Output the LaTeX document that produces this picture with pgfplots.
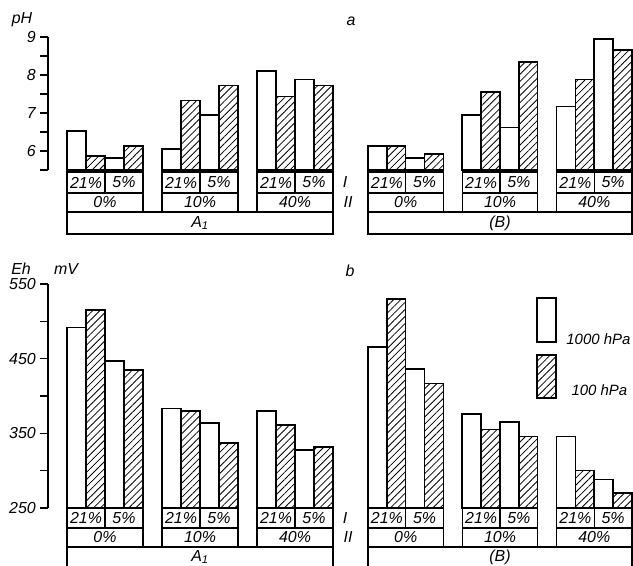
\documentclass[border=0pt]{standalone}
\usepackage{pgfplots}
\pgfplotsset{compat=1.18}
\usetikzlibrary{patterns.meta}
\usepackage{fontspec}
\setmainfont{Liberation Sans}

\newcommand{\lf}{\itshape\fontsize{16}{16}\selectfont}
\tikzset{hatch/.style={pattern={Lines[angle=45,distance=5bp,line width=0.8bp]}}}
\pgfplotsset{
  barax/.style={scale only axis, enlargelimits=false,
    axis x line=none, clip=true,
    ybar, bar width=1, bar shift=0pt},
  yax/.style={axis y line=left, xmin=-1, xmax=14.2, width=288.8bp,
    y axis line style={-, line width=1.4bp, black},
    tick align=outside, ytick pos=left, major tick length=8bp,
    tick style={line width=1.4bp, black},
    yticklabel style={font=\lf, inner sep=1bp, xshift=-3bp}},
  nax/.style={hide axis, xmin=-0.2, xmax=14.2, width=271.5bp},
  openbar/.style={ybar, bar width=1, bar shift=0pt, draw=black, line width=1.6bp, fill=white},
  hatchbar/.style={ybar, bar width=1, bar shift=0pt, draw=black, line width=1.6bp, hatch},
}

\begin{document}
\begin{tikzpicture}
\useasboundingbox (0,0) rectangle (633bp,-566bp);

% ---------- top left: pH, A1
\begin{axis}[barax, yax, at={(48bp,-170bp)}, anchor=south west, height=133bp,
  ymin=5.5, ymax=9, ytick={5.5,6,6.5,7,7.5,8,8.5,9}, yticklabels={,6,,7,,8,,9}]
\addplot[openbar] coordinates {(0.5,6.52) (2.5,5.82) (5.5,6.05) (7.5,6.94) (10.5,8.11) (12.5,7.88)};
\addplot[hatchbar] coordinates {(1.5,5.87) (3.5,6.13) (6.5,7.33) (8.5,7.72) (11.5,7.43) (13.5,7.72)};
\end{axis}

% ---------- top right: pH, (B)
\begin{axis}[barax, nax, at={(364.2bp,-170bp)}, anchor=south west, height=133bp,
  ymin=5.5, ymax=9]
\addplot[openbar] coordinates {(0.5,6.13) (2.5,5.81) (5.5,6.94) (7.5,6.62) (10.5,7.17) (12.5,8.95)};
\addplot[hatchbar] coordinates {(1.5,6.13) (3.5,5.92) (6.5,7.56) (8.5,8.35) (11.5,7.88) (13.5,8.66)};
\end{axis}

% ---------- bottom left: Eh, A1
\begin{axis}[barax, yax, at={(48bp,-508bp)}, anchor=south west, height=224bp,
  ymin=250, ymax=550, ytick={250,300,350,400,450,500,550}, yticklabels={250,,350,,450,,550}]
\addplot[openbar] coordinates {(0.5,492) (2.5,447) (5.5,383) (7.5,364) (10.5,380) (12.5,328)};
\addplot[hatchbar] coordinates {(1.5,515) (3.5,435) (6.5,380) (8.5,337) (11.5,361) (13.5,332)};
\end{axis}

% ---------- bottom right: Eh, (B)
\begin{axis}[barax, nax, at={(364.2bp,-508bp)}, anchor=south west, height=224bp,
  ymin=250, ymax=550]
\addplot[openbar] coordinates {(0.5,466) (2.5,436) (5.5,376) (7.5,365) (10.5,346) (12.5,288)};
\addplot[hatchbar] coordinates {(1.5,530) (3.5,417) (6.5,355) (8.5,346) (11.5,300) (13.5,270)};
\end{axis}

\begin{scope}[x=1bp, y=-1bp, line width=1.2bp, font=\lf]
% top left boxes
\foreach \g/\lab in {67/0\%,162/10\%,257/40\%}{
  \draw (\g,172) rectangle ++(38,21);
  \draw (\g+38,172) rectangle ++(38,21);
  \draw (\g,193) rectangle ++(76,19);
  \node at (\g+19,182.5) {21\%};
  \node at (\g+57,182.5) {5\%};
  \node at (\g+38,202.5) {\lab};
}
\draw (67,212) rectangle (333,234);
\node at (200,223) {A\textsubscript{1}};
% top right boxes
\foreach \g/\lab in {368/0\%,462.3/10\%,556.6/40\%}{
  \draw (\g,172) rectangle ++(37.7,21);
  \draw (\g+37.7,172) rectangle ++(37.7,21);
  \draw (\g,193) rectangle ++(75.4,19);
  \node at (\g+18.85,182.5) {21\%};
  \node at (\g+56.55,182.5) {5\%};
  \node at (\g+37.7,202.5) {\lab};
}
\draw (368,212) rectangle (632,234);
\node at (500,223) {(B)};
% bottom left boxes
\foreach \g/\lab in {67/0\%,162/10\%,257/40\%}{
  \draw (\g,508) rectangle ++(38,20);
  \draw (\g+38,508) rectangle ++(38,20);
  \draw (\g,528) rectangle ++(76,19);
  \node at (\g+19,518) {21\%};
  \node at (\g+57,518) {5\%};
  \node at (\g+38,537.5) {\lab};
}
\draw (67,566) -- (67,547) -- (333,547) -- (333,566);
\node at (200,557) {A\textsubscript{1}};
% bottom right boxes
\foreach \g/\lab in {368/0\%,462.3/10\%,556.6/40\%}{
  \draw (\g,508) rectangle ++(37.7,20);
  \draw (\g+37.7,508) rectangle ++(37.7,20);
  \draw (\g,528) rectangle ++(75.4,19);
  \node at (\g+18.85,518) {21\%};
  \node at (\g+56.55,518) {5\%};
  \node at (\g+37.7,537.5) {\lab};
}
\draw (368,566) -- (368,547) -- (632,547) -- (632,566);
\node at (500,557) {(B)};

% axis titles and panel letters
\node at (22,20) {pH};
\node at (21,269) {Eh};
\node at (66,269) {mV};
\node at (351,21) {a};
\node at (350,271) {b};
\node at (345,182.5) {\rmfamily I};
\node at (348,202.5) {\rmfamily II};
\node at (345,518) {\rmfamily I};
\node at (348,537.5) {\rmfamily II};

% legend
\draw[line width=1.6bp, fill=white] (537,298) rectangle (556,342);
\draw[line width=1.6bp, hatch] (537,355) rectangle (556,398);
\node[anchor=east, inner sep=1bp, font=\itshape\fontsize{15}{15}\selectfont] at (632,339) {1000 hPa};
\node[anchor=west, inner sep=1bp, font=\itshape\fontsize{15}{15}\selectfont] at (570,390) {100 hPa};
\end{scope}
\end{tikzpicture}
\end{document}
